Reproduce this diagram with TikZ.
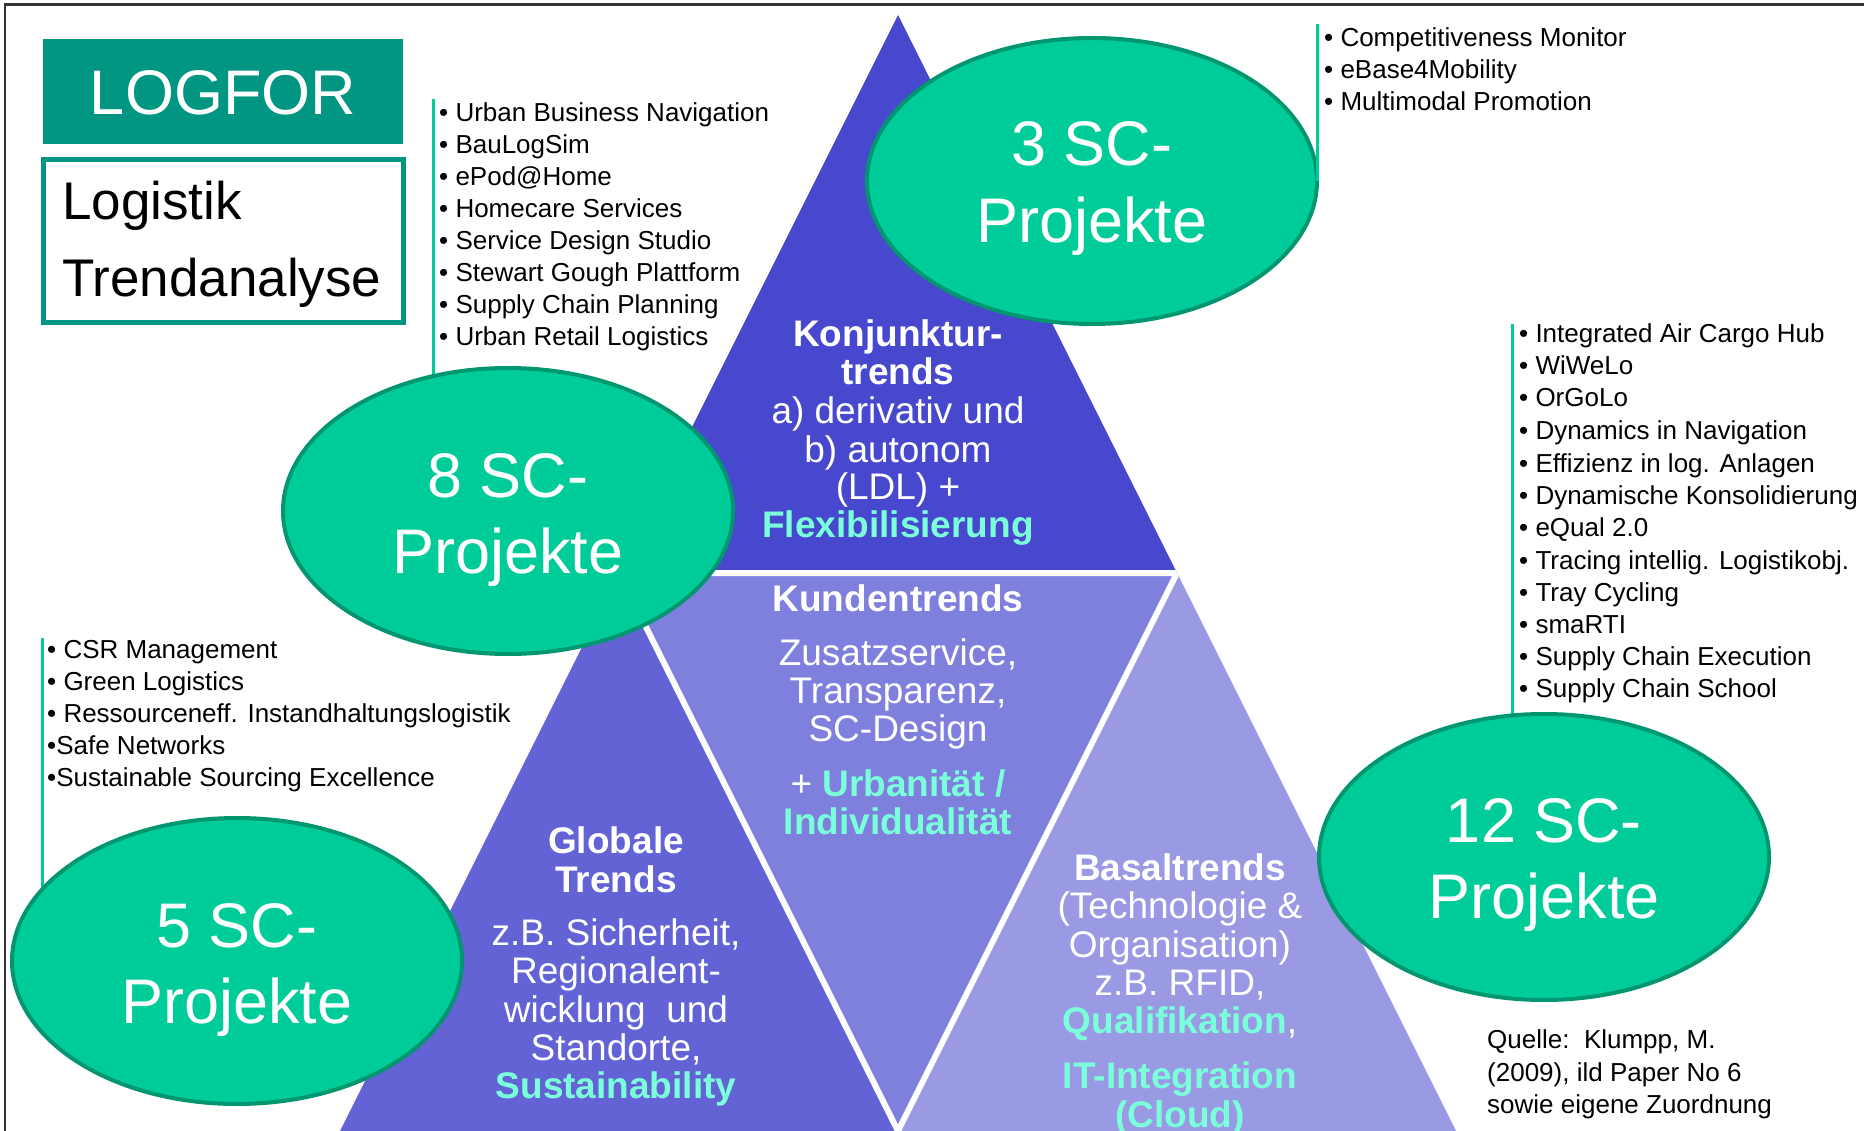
\documentclass[tikz,border=0pt]{standalone}
\usepackage{fontspec}
\setmainfont{Liberation Sans}
\usetikzlibrary{shapes.geometric}
\definecolor{triA}{RGB}{72,72,206}
\definecolor{triB}{RGB}{127,127,222}
\definecolor{triC}{RGB}{99,99,214}
\definecolor{triD}{RGB}{153,153,228}
\definecolor{scgreen}{RGB}{0,204,153}
\definecolor{scdark}{RGB}{0,150,112}
\definecolor{logteal}{RGB}{0,150,130}
\definecolor{hl}{RGB}{122,255,218}
\begin{document}
\begin{tikzpicture}[x=1pt,y=-1pt,
  listtxt/.style={anchor=base west, font=\fontsize{26}{32}\selectfont, inner sep=0pt},
  tritxt/.style={anchor=base, font=\fontsize{37}{38}\selectfont, text=white, inner sep=0pt},
  tribold/.style={anchor=base, font=\fontsize{37}{38}\selectfont\bfseries, text=white, inner sep=0pt},
  hlbold/.style={anchor=base, font=\fontsize{37}{38}\selectfont\bfseries, text=hl, inner sep=0pt},
  scell/.style={ellipse, draw=scdark, fill=scgreen, line width=4pt, minimum width=450pt, minimum height=286pt, inner sep=0pt},
  sctxt/.style={anchor=base, text=white, font=\fontsize{63}{70}\selectfont, inner sep=0pt},
  conn/.style={draw=scgreen, line width=3pt}
]
\useasboundingbox (0,0) rectangle (1864,1131);
\fill[white] (0,0) rectangle (1864,1131);
% frame
\draw[line width=2.5pt, black!80] (5,1131) -- (5,4.5) -- (1864,4.5);

% triangles
\coordinate (A) at (898,15);
\coordinate (B) at (340,1131);
\coordinate (C) at (1456,1131);
\coordinate (mAB) at (619,573);
\coordinate (mAC) at (1177,573);
\coordinate (mBC) at (898,1131);
\fill[triA] (A) -- (mAB) -- (mAC) -- cycle;
\fill[triB] (mAB) -- (mAC) -- (mBC) -- cycle;
\fill[triC] (mAB) -- (mBC) -- (B) -- cycle;
\fill[triD] (mAC) -- (C) -- (mBC) -- cycle;
\begin{scope}
  \clip (A) -- (B) -- (C) -- cycle;
  \draw[white, line width=6pt] (mAB) -- (mAC) -- (mBC) -- cycle;
\end{scope}

% title boxes
\node[fill=logteal, minimum width=360pt, minimum height=105pt, inner sep=0pt] (logfor) at (223,91.5) {};
\node[anchor=base, text=white, font=\fontsize{63}{70}\selectfont, inner sep=0pt] (logfort) at (223,115) {LOGFOR};
\node[draw=logteal, line width=5pt, minimum width=360pt, minimum height=163pt, inner sep=0pt] (trendbox) at (223.5,241) {};
\node[anchor=base west, font=\fontsize{53}{60}\selectfont, inner sep=0pt] (lt1) at (62,220) {Logistik};
\node[anchor=base west, font=\fontsize{53}{60}\selectfont, inner sep=0pt] (lt2) at (62,297) {Trendanalyse};

% connector coordinates
\coordinate (l1top) at (433,99);
\coordinate (l2top) at (1317,24);
\coordinate (l3top) at (1512,324);
\coordinate (l4top) at (42,638);

% ellipse centres (for connectors drawn beneath)
\coordinate (c8) at (508,511);
\coordinate (c12) at (1544,857);
\coordinate (c5) at (237,961);
\coordinate (c3) at (1092,181);

\draw[conn] (l1top) -- (l1top |- c8);
\draw[conn] (l3top) -- (l3top |- c12);
\draw[conn] (l4top) -- (l4top |- c5);

% ellipses
\node[scell] (e3) at (c3) {};
\node[scell] (e8) at (c8) {};
\node[scell] (e5) at (c5) {};
\node[scell] (e12) at (c12) {};

\draw[conn] (l2top) -- (l2top |- e3.center);

\node[sctxt] (e3a) at (1092,166) {3 SC-};
\node[sctxt] (e3b) at (1092,243) {Projekte};
\node[sctxt] (e8a) at (508,497) {8 SC-};
\node[sctxt] (e8b) at (508,573) {Projekte};
\node[sctxt] (e5a) at (237,947) {5 SC-};
\node[sctxt] (e5b) at (237,1023) {Projekte};
\node[sctxt] (e12a) at (1544,842) {12 SC-};
\node[sctxt] (e12b) at (1544,918) {Projekte};

% list 1
\node[listtxt] (l1a) at (439,122) {• Urban Business Navigation};
\node[listtxt] (l1b) at (439,154) {• BauLogSim};
\node[listtxt] (l1c) at (439,186) {• ePod@Home};
\node[listtxt] (l1d) at (439,218) {• Homecare Services};
\node[listtxt] (l1e) at (439,250) {• Service Design Studio};
\node[listtxt] (l1f) at (439,282) {• Stewart Gough Plattform};
\node[listtxt] (l1g) at (439,314) {• Supply Chain Planning};
\node[listtxt] (l1h) at (439,346) {• Urban Retail Logistics};

% list 2
\node[listtxt] (l2a) at (1324,47) {• Competitiveness Monitor};
\node[listtxt] (l2b) at (1324,79) {• eBase4Mobility};
\node[listtxt] (l2c) at (1324,111) {• Multimodal Promotion};

% list 3
\node[listtxt] (l3a) at (1519,343) {• Integrated Air Cargo Hub};
\node[listtxt] (l3b) at (1519,375) {• WiWeLo};
\node[listtxt] (l3c) at (1519,407) {• OrGoLo};
\node[listtxt] (l3d) at (1519,440) {• Dynamics in Navigation};
\node[listtxt] (l3e) at (1519,472) {• Effizienz in log. Anlagen};
\node[listtxt] (l3f) at (1519,504) {• Dynamische Konsolidierung};
\node[listtxt] (l3g) at (1519,536) {• eQual 2.0};
\node[listtxt] (l3h) at (1519,569) {• Tracing intellig. Logistikobj.};
\node[listtxt] (l3i) at (1519,601) {• Tray Cycling};
\node[listtxt] (l3j) at (1519,633) {• smaRTI};
\node[listtxt] (l3k) at (1519,665) {• Supply Chain Execution};
\node[listtxt] (l3l) at (1519,697) {• Supply Chain School};

% list 4
\node[listtxt] (l4a) at (47,658) {• CSR Management};
\node[listtxt] (l4b) at (47,690) {• Green Logistics};
\node[listtxt] (l4c) at (47,722) {• Ressourceneff. Instandhaltungslogistik};
\node[listtxt] (l4d) at (47,754) {•Safe Networks};
\node[listtxt] (l4e) at (47,786) {•Sustainable Sourcing Excellence};

% source
\node[listtxt] (q1) at (1487,1048) {Quelle:\ \ Klumpp, M.};
\node[listtxt] (q2) at (1487,1081) {(2009), ild Paper No 6};
\node[listtxt] (q3) at (1487,1113) {sowie eigene Zuordnung};

% top triangle text
\node[tribold] (k1) at (898,347) {Konjunktur-};
\node[tribold] (k2) at (898,385) {trends};
\node[tritxt] (k3) at (898,424) {a) derivativ und};
\node[tritxt] (k4) at (898,462) {b) autonom};
\node[tritxt] (k5) at (898,500) {(LDL) +};
\node[hlbold] (k6) at (898,537) {Flexibilisierung};

% middle triangle text
\node[tribold] (m1) at (898,611) {Kundentrends};
\node[tritxt] (m2) at (898,665) {Zusatzservice,};
\node[tritxt] (m3) at (898,703) {Transparenz,};
\node[tritxt] (m4) at (898,741) {SC-Design};
\node[tritxt] (m5) at (898,796) {+ \textcolor{hl}{\bfseries Urbanität /}};
\node[hlbold] (m6) at (898,834) {Individualität};

% bottom-left text
\node[tribold] (g1) at (616,853) {Globale};
\node[tribold] (g2) at (616,892) {Trends};
\node[tritxt] (g3) at (616,945) {z.B. Sicherheit,};
\node[tritxt] (g4) at (616,983) {Regionalent-};
\node[tritxt] (g5) at (616,1022) {wicklung\ \ und};
\node[tritxt] (g6) at (616,1060) {Standorte,};
\node[hlbold] (g7) at (616,1098) {Sustainability};

% bottom-right text
\node[tribold] (b1) at (1180,880) {Basaltrends};
\node[tritxt] (b2) at (1180,918) {(Technologie \&};
\node[tritxt] (b3) at (1180,957) {Organisation)};
\node[tritxt] (b4) at (1180,995) {z.B. RFID,};
\node[tritxt] (b5) at (1180,1033) {\textcolor{hl}{\bfseries Qualifikation},};
\node[hlbold] (b6) at (1180,1088) {IT-Integration};
\node[hlbold] (b7) at (1180,1127) {(Cloud)};
\end{tikzpicture}
\end{document}
